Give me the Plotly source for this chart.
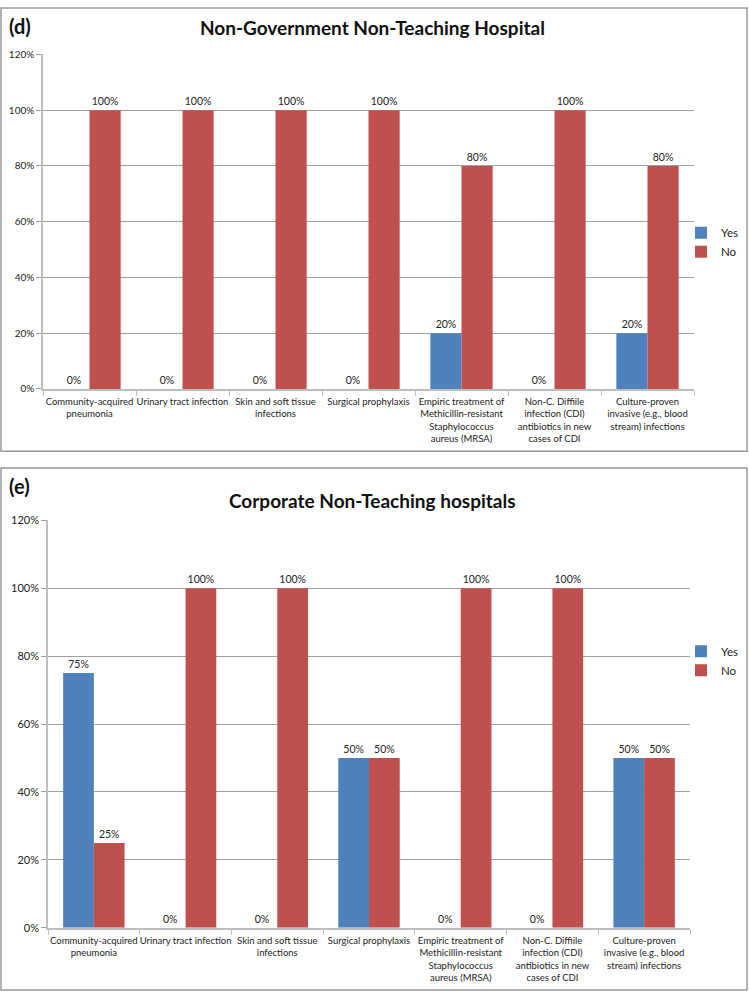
import plotly.graph_objects as go

categories = [
    "Community-acquired<br>pneumonia",
    "Urinary tract infection",
    "Skin and soft tissue<br>infections",
    "Surgical prophylaxis",
    "Empiric treatment of<br>Methicillin-resistant<br>Staphylococcus<br>aureus (MRSA)",
    "Non-C. Diffiile<br>infection (CDI)<br>antibiotics in new<br>cases of CDI",
    "Culture-proven<br>invasive (e.g., blood<br>stream) infections",
]
d_yes = [0.0, 0.0, 0.0, 0.0, 0.20, 0.0, 0.20]
d_no = [1.00, 1.00, 1.00, 1.00, 0.80, 1.00, 0.80]
e_yes = [0.75, 0.0, 0.0, 0.50, 0.0, 0.0, 0.50]
e_no = [0.25, 1.00, 1.00, 0.50, 1.00, 1.00, 0.50]
y_ticks = [0, 0.2, 0.4, 0.6, 0.8, 1.0, 1.2]

W, H = 749, 998
BLUE = "#4F81BD"
RED = "#C0504D"
GRID = "#A0A0A0"
AXIS = "#BEBEBE"
FONT = "Lato"

def px(x):
    return x / W

def py(y):
    return 1 - y / H

fig = go.Figure()

def add(vals, name, color, xa, ya, leg):
    fig.add_trace(go.Bar(
        x=categories, y=vals, name=name, marker=dict(color=color, line=dict(width=0)),
        xaxis=xa, yaxis=ya, legend=leg, showlegend=True,
        text=[f"{round(v*100)}%" for v in vals], textposition="outside",
        textfont=dict(size=10.5, color="#222"), cliponaxis=False,
    ))

add(d_yes, "Yes", BLUE, "x", "y", "legend")
add(d_no, "No", RED, "x", "y", "legend")
add(e_yes, "Yes", BLUE, "x2", "y2", "legend2")
add(e_no, "No", RED, "x2", "y2", "legend2")

xcommon = dict(type="category", showline=True, linecolor=AXIS, linewidth=1.5,
               ticks="outside", tickson="boundaries", ticklen=5, tickcolor=AXIS,
               tickfont=dict(size=9.5, color="#222", family=FONT), showgrid=False,
               tickangle=0, ticklabelstandoff=3)
ycommon = dict(range=[0, 1.2], tickvals=y_ticks, tickformat=".0%", showline=True,
               linecolor=AXIS, linewidth=1.5, ticks="outside", ticklen=5, tickcolor=GRID,
               showgrid=True, gridcolor=GRID, gridwidth=1, zeroline=False)

fig.update_layout(
    width=W, height=H,
    margin=dict(l=0, r=0, t=0, b=0),
    paper_bgcolor="white", plot_bgcolor="white",
    font=dict(family=FONT, color="#222"),
    barmode="group", bargap=0.33, bargroupgap=0,
    xaxis=dict(domain=[px(43), px(694)], anchor="y", **xcommon),
    yaxis=dict(domain=[py(387), py(48)], anchor="x",
               tickfont=dict(size=10, color="#222"), **ycommon),
    xaxis2=dict(domain=[px(48), px(690)], anchor="y2", **xcommon),
    yaxis2=dict(domain=[py(933), py(520)], anchor="x2",
                tickfont=dict(size=11, color="#222"), **ycommon),
    legend=dict(x=px(681), y=py(214), xanchor="left", yanchor="top",
                font=dict(size=11.5), bgcolor="rgba(0,0,0,0)", itemwidth=30),
    legend2=dict(x=px(681), y=py(638), xanchor="left", yanchor="top",
                 font=dict(size=11.5), bgcolor="rgba(0,0,0,0)", itemwidth=30),
    shapes=[
        dict(type="rect", xref="paper", yref="paper", x0=px(1), x1=px(747),
             y0=py(450), y1=py(1), line=dict(color="#999", width=1.5)),
        dict(type="rect", xref="paper", yref="paper", x0=px(1), x1=px(747),
             y0=py(996), y1=py(467), line=dict(color="#999", width=1.5)),
    ],
    annotations=[
        dict(text="<b>Non-Government Non-Teaching Hospital</b>", xref="paper", yref="paper",
             x=px(372), y=py(21), xanchor="center", yanchor="middle", showarrow=False,
             font=dict(size=19, color="#111")),
        dict(text="<b>(d)</b>", xref="paper", yref="paper", x=px(7), y=py(19),
             xanchor="left", yanchor="middle", showarrow=False, font=dict(size=20, color="#111")),
        dict(text="<b>Corporate Non-Teaching hospitals</b>", xref="paper", yref="paper",
             x=px(372), y=py(500), xanchor="center", yanchor="middle", showarrow=False,
             font=dict(size=19, color="#111")),
        dict(text="<b>(e)</b>", xref="paper", yref="paper", x=px(7), y=py(485),
             xanchor="left", yanchor="middle", showarrow=False, font=dict(size=20, color="#111")),
    ],
)

fig.write_html(
    "out.html",
    config={"displayModeBar": False},
    post_script="document.body.style.margin='0';document.body.style.overflow='hidden';",
)
